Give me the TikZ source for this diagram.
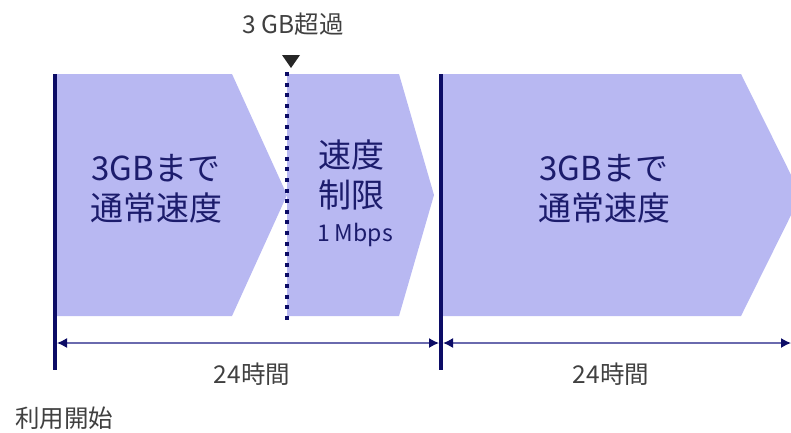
\documentclass[tikz,border=0pt]{standalone}
\usepackage{fontspec}
\setmainfont{Noto Sans CJK JP}
\usetikzlibrary{arrows.meta}
\definecolor{fillc}{HTML}{B8B8F2}
\definecolor{navy}{HTML}{0C0C66}
\definecolor{txtc}{HTML}{1C1C6C}
\definecolor{lblc}{HTML}{404040}
\definecolor{markc}{HTML}{262626}
\definecolor{dimc}{HTML}{6A6AAE}
\tikzset{
  phase/.style={fill=fillc,draw=none},
  big/.style={font=\fontsize{33}{40}\selectfont,text=txtc,align=center,inner sep=0pt},
  small/.style={font=\fontsize{23}{26}\selectfont,text=txtc,inner sep=0pt},
  lbl/.style={font=\fontsize{24.5}{28}\selectfont,text=lblc,inner sep=0pt},
  bar/.style={draw=navy,line width=4pt},
  dotbar/.style={draw=navy,line width=4pt,dash pattern=on 4pt off 6.6pt},
  dim/.style={draw=dimc,line width=1.4pt,{Latex[length=10pt,width=10pt,color=navy]}-{Latex[length=10pt,width=10pt,color=navy]}},
}
\begin{document}
\begin{tikzpicture}[x=1pt,y=-1pt]
\useasboundingbox (0,0) rectangle (791,432);
\begin{scope}
\clip (0,0) rectangle (791,432);
\fill[phase] (55,74) -- (232,74) -- (287,195) -- (232,316) -- (55,316) -- cycle;
\fill[phase] (287,74) -- (399,74) -- (434,195) -- (399,316) -- (287,316) -- cycle;
\fill[phase] (441,74) -- (741,74) -- (801,195) -- (741,316) -- (441,316) -- cycle;
\end{scope}
% vertical bars
\coordinate (s0) at (55,74);
\coordinate (e0) at (55,370);
\coordinate (s1) at (441,74);
\coordinate (e1) at (441,370);
\coordinate (d0) at (287,72);
\coordinate (d1) at (287,322);
\draw[bar] (s0) -- (e0);
\draw[bar] (s1) -- (e1);
\draw[dotbar] (d0) -- (d1);
% marker
\fill[markc] (282,55) -- (300,55) -- (291,68) -- cycle;
% texts in shapes
\node[big] (t1) at (156,189) {3GBまで\\通常速度};
\node[big] (t2) at (351,175) {速度\\制限};
\node[small] (t3) at (355,235) {1 Mbps};
\node[big] (t4) at (604,189) {3GBまで\\通常速度};
% dimension lines
\coordinate (a0) at (57,343);
\coordinate (a1) at (439,343);
\coordinate (b0) at (443,343);
\coordinate (b1) at (791,343);
\draw[dim] (a0) -- (a1);
\draw[dim] (b0) -- (b1);
% labels
\node[lbl] (top) at (293,24) {3 GB超過};
\node[lbl] (h1) at (252,374) {24時間};
\node[lbl] (h2) at (611,374) {24時間};
\node[lbl] (st) at (64,418) {利用開始};
\end{tikzpicture}
\end{document}
